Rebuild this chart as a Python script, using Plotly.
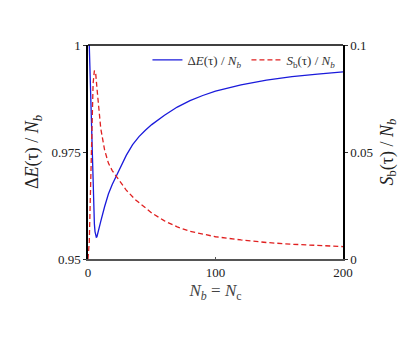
import plotly.graph_objects as go

# Data
n_energy = [1, 2, 3, 4, 4.5, 5, 5.5, 6, 6.5, 7, 8, 10, 13, 16, 19, 22, 26, 30, 35, 40, 45, 50, 60, 70,
            80, 90, 100, 120, 140, 160, 180, 200]
energy = [1.0, 0.988, 0.9765, 0.9650, 0.9610, 0.9582, 0.9564, 0.9555, 0.9551, 0.9552, 0.9562, 0.9588,
          0.9622, 0.9652, 0.9674, 0.9693, 0.9720, 0.9742, 0.9767, 0.9786, 0.9801, 0.9814, 0.9836,
          0.9855, 0.9870, 0.9882, 0.9892, 0.9907, 0.9918, 0.9926, 0.9932, 0.9937]

n_entropy = [0, 1, 2, 3, 4, 5, 6, 7, 8, 10, 13, 16, 19, 22, 26, 30, 37, 45, 50, 60, 70, 80, 90, 100,
             120, 140, 160, 180, 200]
entropy = [0.0, 0.008, 0.033, 0.060, 0.082, 0.088, 0.087, 0.080, 0.073, 0.061, 0.051, 0.0448, 0.0413,
           0.0387, 0.0352, 0.0322, 0.0278, 0.0237, 0.0215, 0.0178, 0.0150, 0.0129, 0.0115, 0.0104,
           0.0089, 0.0077, 0.0069, 0.0063, 0.0058]

x_ticks = [0, 100, 200]
y1_ticks = [0.95, 0.975, 1]
y1_labels = ["0.95", "0.975", "1"]
y2_ticks = [0, 0.05, 0.1]
y2_labels = ["0", "0.05", "0.1"]

FONT = "Liberation Serif"

fig = go.Figure()
fig.add_trace(go.Scatter(
    x=n_energy, y=energy, mode="lines", line=dict(color="#1a1adb", width=1.3),
    name="Δ<i>E</i>(τ) / <i>N<sub>b</sub></i>", yaxis="y"))
fig.add_trace(go.Scatter(
    x=n_entropy, y=entropy, mode="lines", line=dict(color="#e02020", width=1.3, dash="5px,3px"),
    name="<i>S</i><sub>b</sub>(τ) / <i>N<sub>b</sub></i>", yaxis="y2"))

fig.update_layout(
    width=415, height=343,
    margin=dict(l=80, r=80, t=37, b=92),
    paper_bgcolor="white", plot_bgcolor="white",
    font=dict(family=FONT, size=12, color="#222"),
    showlegend=True,
    legend=dict(orientation="h", x=0.99, xanchor="right", y=1.0, yanchor="top",
                bgcolor="rgba(255,255,255,0)", font=dict(family=FONT, size=13, color="#333"),
                itemwidth=30, tracegroupgap=0),
    xaxis=dict(range=[0, 200], tickvals=x_ticks, ticktext=[str(v) for v in x_ticks],
               showgrid=False, zeroline=False, showline=True, linecolor="#555", linewidth=2,
               ticks="inside", ticklen=2, tickcolor="#555",
               tickfont=dict(family=FONT, size=13, color="#222"),
               title=dict(text="<i>N<sub>b</sub></i> = <i>N</i><sub>c</sub>",
                          font=dict(family=FONT, size=17, color="#444"), standoff=6)),
    yaxis=dict(range=[0.95, 1], tickvals=y1_ticks, ticktext=y1_labels,
               showgrid=False, zeroline=False, showline=True, linecolor="black", linewidth=1.5,
               ticks="outside", ticklen=3, tickcolor="#333",
               tickfont=dict(family=FONT, size=13, color="#222"),
               title=dict(text="Δ<i>E</i>(τ) / <i>N<sub>b</sub></i>",
                          font=dict(family=FONT, size=18, color="#222"), standoff=8)),
    yaxis2=dict(range=[0, 0.1], tickvals=y2_ticks, ticktext=y2_labels, overlaying="y", side="right",
                showgrid=False, zeroline=False, showline=True, linecolor="black", linewidth=1.5,
                ticks="outside", ticklen=3, tickcolor="#333",
                tickfont=dict(family=FONT, size=13, color="#222"),
                title=dict(text="<i>S</i><sub>b</sub>(τ) / <i>N<sub>b</sub></i>",
                           font=dict(family=FONT, size=18, color="#222"), standoff=8)),
    shapes=[dict(type="line", xref="paper", yref="paper", x0=0, x1=1, y0=1, y1=1,
                 line=dict(color="black", width=1.5))],
)

fig.write_html("out.html")
